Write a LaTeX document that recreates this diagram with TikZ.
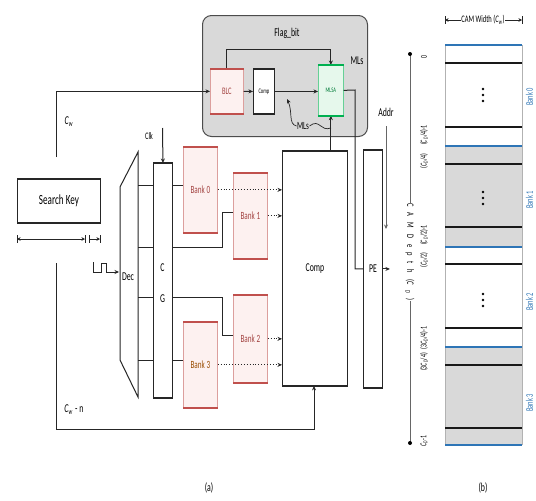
\documentclass[tikz,border=0pt]{standalone}
\usepackage{fontspec}
\setmainfont{Carlito}[FakeStretch=0.65]
\usetikzlibrary{arrows.meta}
\definecolor{bankred}{HTML}{C0504D}
\definecolor{bankfill}{HTML}{FDF1F0}
\definecolor{grn}{HTML}{00B050}
\definecolor{grnfill}{HTML}{E6F8EC}
\definecolor{blu}{HTML}{2E75B6}
\definecolor{boxgray}{HTML}{D9D9D9}
\newcommand\mycw{\textit{C}\textsubscript{\textit{w}}}
\newcommand\mycd{\textit{C}\textsubscript{\textit{D}}}
\tikzset{
  lbl/.style={font=\fontsize{12}{13}\selectfont, inner sep=0pt},
  smalllbl/.style={font=\fontsize{9}{10}\selectfont, inner sep=0pt},
  arr/.style={-{Stealth[length=4.5pt,width=4pt]}},
  plainbox/.style={draw=black!85, line width=0.9pt, fill=white, inner sep=0pt, anchor=north west, font=\fontsize{12}{13}\selectfont},
  bankbox/.style={draw=bankred!55, line width=0.7pt, fill=bankfill, inner sep=0pt, anchor=north west, text=bankred!85!black, font=\fontsize{11}{12}\selectfont},
  greenbox/.style={draw=grn!60, line width=0.7pt, fill=grnfill, inner sep=0pt, anchor=north west, text=grn!70!black, font=\fontsize{7}{8}\selectfont},
  thickbk/.style={line width=2.2pt, black!85},
  thickrd/.style={line width=1.8pt, bankred},
  thickgn/.style={line width=1.8pt, grn},
}
\begin{document}
\begin{tikzpicture}[x=1pt, y=-1pt, line width=1pt, draw=black!85]
\fill[white] (0,0) rectangle (536,501);
\useasboundingbox (0,0) rectangle (536,501);

% ---------- top control block ----------
\node[draw=black!70, fill=boxgray, rounded corners=9pt, line width=1pt, minimum width=165pt, minimum height=121pt, anchor=north west, inner sep=0pt] (ctrl) at (202,15) {};
\node[lbl] (flag) at (287,33) {Flag\_bit};
\node[bankbox, minimum width=33pt, minimum height=44pt, font=\fontsize{10}{11}\selectfont] (blc) at (210,69) {BLC};
\node[plainbox, minimum width=21pt, minimum height=44pt, font=\fontsize{7}{8}\selectfont] (cmps) at (253,69) {Comp};
\node[greenbox, minimum width=25pt, minimum height=50pt] (mlsa) at (318,65) {MLSA};
\draw[arr] (blc.north) -- (blc.north |- 0,49) -| (mlsa.north);
\draw[arr] (blc.east) -- (cmps.west);
\draw[arr] (cmps.east) -- (cmps.east -| mlsa.west);
\node[lbl] (mlst) at (357,61) {MLs};
\node[smalllbl, font=\fontsize{11}{12}\selectfont] (mlsb) at (303,126) {MLs};
\draw[arr, line width=0.7pt] (mlsb.west) .. controls (288,124) and (293,112) .. (287,99);
\draw[line width=0.7pt] (mlsb.east) .. controls (320,118) and (320,132) .. (331,128);

% ---------- left inputs ----------
\node[plainbox, minimum width=83pt, minimum height=43pt, font=\fontsize{14}{15}\selectfont] (skey) at (17,179) {Search Key};
\coordinate (cwtop) at (56,157);
\coordinate (cwbot) at (56,263);
\coordinate (cbend) at (314,429);
\draw[arr] (cwtop) |- (blc.west);
\node[lbl] (cwl) at (69,122) {\mycw};
\coordinate (m1a) at (17,239);
\coordinate (m1b) at (85,239);
\coordinate (m2a) at (89,239);
\coordinate (m2b) at (100,239);
\draw[{Stealth[length=3.5pt,width=3.5pt]}-{Stealth[length=3.5pt,width=3.5pt]}] (m1a) -- (m1b);
\draw (m1a) ++(0,-4) -- ++(0,8);
\draw (m1b) ++(0,-4) -- ++(0,8);
\draw[-{Stealth[length=3.5pt,width=3.5pt]}] (m2a) -- (m2b);
\draw (m2a) ++(0,-4) -- ++(0,8);
\draw (m2b) ++(0,-4) -- ++(0,8);

% Dec trapezoid
\coordinate (dtl) at (120,187);
\coordinate (dtr) at (138,152);
\coordinate (dbr) at (138,397);
\coordinate (dbl) at (120,360);
\draw (dtl) -- (dtr) -- (dbr) -- (dbl) -- cycle;
\node[lbl] (decl) at (128,277) {Dec};
\coordinate (pulse) at (93,262);
\draw[arr, line width=0.8pt] (pulse) -- (93,272) -- (101,272) -- (101,263) -- (106,263) -- (106,272) -- (119,272);

% CG
\node[plainbox, minimum width=19pt, minimum height=234pt] (cg) at (153,163) {};
\node[lbl] (cl) at (162.5,268) {C};
\node[lbl] (gl) at (162.5,299) {G};
\node[smalllbl, font=\fontsize{10}{11}\selectfont] (clk) at (149,136) {Clk};
\draw[arr] (162.5,128) -- (cg.north);
\foreach \y in {185,247,297,360} \draw (138,\y) -- (153,\y);

% banks
\node[bankbox, minimum width=34pt, minimum height=85pt] (bank0) at (183,147) {Bank 0};
\node[bankbox, minimum width=34pt, minimum height=85pt] (bank1) at (233,173) {Bank 1};
\node[bankbox, minimum width=34pt, minimum height=87pt] (bank2) at (233,295) {Bank 2};
\node[bankbox, minimum width=34pt, minimum height=85pt, text=orange!60!black] (bank3) at (183,322) {Bank 3};
\draw (172,185) -- (bank0.west |- 0,185);
\draw (172,247) -- (222,247) |- (bank1.west |- 0,212);
\draw (172,297) -- (222,297) |- (bank2.west |- 0,335);
\draw (172,360) -- (bank3.west |- 0,360);

% Comp and PE
\node[plainbox, minimum width=65pt, minimum height=234pt] (comp) at (282,151) {Comp};
\node[plainbox, minimum width=19pt, minimum height=237pt] (pe) at (363,150) {PE};
\foreach \b in {bank0,bank1,bank2,bank3}
  \draw[arr, dotted, line width=0.9pt] (\b.east) -- (\b.east -| comp.west);

\draw[arr] (mlsa.south |- comp.north) -- (mlsa.south);
\draw (mlsa.east) -- (355,90) |- (pe.west);
\node[lbl] (addr) at (386,112) {Addr};
\draw[arr, line width=0.7pt, black!60] (386,126) -- (386,229);
\draw[arr] (pe.east) -- ++(7,0);

\draw[arr] (cwbot) |- (cbend) -- (cbend |- comp.south);
\node[lbl] (cwn) at (74,410) {\mycw\,-\,n};

% thick borders
\foreach \n in {skey,cg,comp,pe,cmps}
  \draw[thickbk] (\n.north west) -- (\n.north east) (\n.south west) -- (\n.south east);
\foreach \n in {bank0,bank1,bank2,bank3,blc}
  \draw[thickrd] (\n.north west) -- (\n.north east) (\n.south west) -- (\n.south east);
\draw[thickgn] (mlsa.north west) -- (mlsa.north east) (mlsa.south west) -- (mlsa.south east);

\node[lbl] (capa) at (209,488) {(a)};

% ---------- (b) memory layout ----------
\foreach \ya/\yb/\c in {45/146/white,146/247/boxgray,247/347/white,347/445/boxgray}
  \fill[\c] (445,\ya) rectangle (522,\yb);
\draw[line width=0.6pt, black!30] (445,45) -- (445,445) (522,45) -- (522,445);
\foreach \y in {63,127,164,227,264,328,365,428}
  \draw[line width=1.8pt, black!90] (445,\y) -- (522,\y);
\foreach \y in {45,146,247,347,445}
  \draw[line width=1.8pt, blu] (445,\y) -- (522,\y);
\foreach \y in {95,198,300}
  \foreach \d in {-6,0,6} \fill (483,\y+\d) circle (1.3);

\node[smalllbl, font=\fontsize{10}{11}\selectfont] (cwh) at (483,20) {CAM Width (\mycw)};
\draw[-{Stealth[length=3.5pt,width=3.5pt]}] (cwh.west) -- (445,20);
\draw[-{Stealth[length=3.5pt,width=3.5pt]}] (cwh.east) -- (522,20);
\draw (445,16) -- (445,24) (522,16) -- (522,24);

\coordinate (ax0) at (410,54);
\coordinate (ax1) at (410,443);
\draw[black!60] (ax0) -- (ax1);
\fill (ax0) circle (2) (ax1) circle (2);
\node[font=\fontsize{10}{11}\selectfont\addfontfeatures{LetterSpace=55}, fill=white, inner sep=1pt, rotate=-90] (cdl) at (410,252) {CAM Depth (\mycd)};

\foreach \t/\y in {{0}/57,{(\mycd/4)-1}/135,{(\mycd/4)}/161,{(\mycd/2)-1}/235,{(\mycd/2)}/260,{(3\mycd/4)-1}/338,{(3\mycd/4)}/362,{\mycd-1}/441}
  \node[smalllbl, rotate=90] at (424,\y) {\t};

\foreach \t/\y in {{Bank 0}/97,{Bank 1}/200,{Bank 2}/302,{Bank 3}/403}
  \node[smalllbl, font=\fontsize{10}{11}\selectfont, text=blu, rotate=90] at (529.5,\y) {\t};

\node[lbl] (capb) at (483,488) {(b)};
\end{tikzpicture}
\end{document}
